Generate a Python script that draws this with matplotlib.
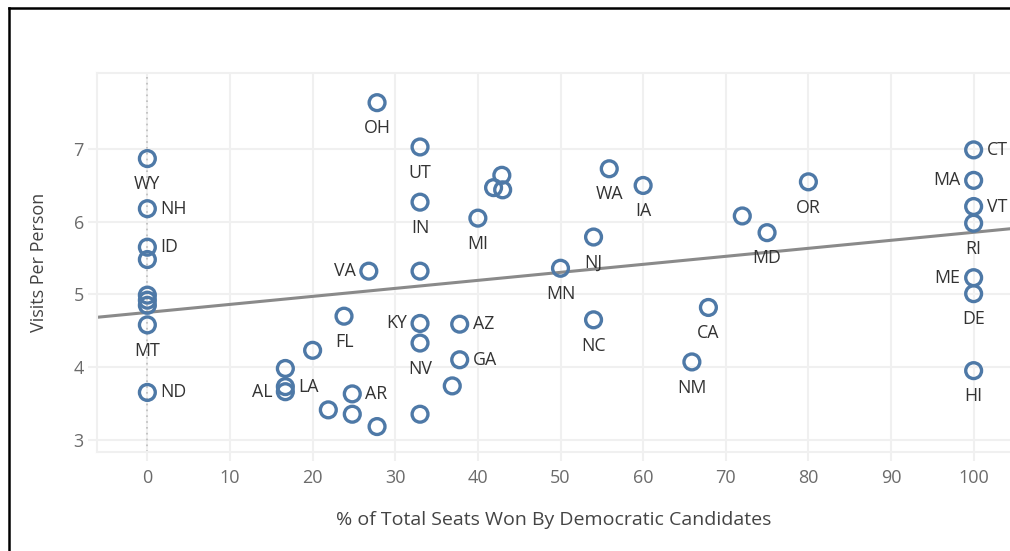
import numpy as np
import matplotlib.pyplot as plt
from matplotlib.lines import Line2D

# state labels ('' = point without a visible label)
states = ['WY', 'NH', 'ID', '', '', '', '', 'MT', 'ND',
          'OH', 'UT', 'IN', 'VA', '', 'MI', '', '', '',
          'KY', 'NV', '', 'AZ', 'GA', '', 'FL', '', '',
          'LA', 'AL', 'AR', '', '', '',
          'WA', 'IA', 'NJ', 'MN', 'NC', 'CA', 'NM', '', 'MD', 'OR',
          'CT', 'MA', 'VT', 'RI', 'ME', 'DE', 'HI']
pct_dem = [0, 0, 0, 0, 0, 0, 0, 0, 0,
           27.8, 33, 33, 26.8, 33, 40, 42.9, 41.9, 43.0,
           33, 33, 33, 37.8, 37.8, 36.9, 23.8, 20, 16.7,
           16.7, 16.7, 24.8, 21.9, 24.8, 27.8,
           55.9, 60, 54, 50, 54, 67.9, 65.9, 72, 75, 80,
           100, 100, 100, 100, 100, 100, 100]
visits = [6.87, 6.18, 5.65, 5.48, 4.99, 4.92, 4.85, 4.58, 3.65,
          7.64, 7.03, 6.27, 5.32, 5.32, 6.05, 6.64, 6.47, 6.44,
          4.60, 4.33, 3.35, 4.59, 4.10, 3.74, 4.70, 4.23, 3.98,
          3.73, 3.66, 3.63, 3.41, 3.35, 3.18,
          6.73, 6.50, 5.79, 5.36, 4.65, 4.82, 4.07, 6.08, 5.85, 6.55,
          6.99, 6.57, 6.21, 5.98, 5.23, 5.01, 3.95]

# trend line
trend_intercept = 4.752
trend_slope = 0.01103

x_ticks = [0, 10, 20, 30, 40, 50, 60, 70, 80, 90, 100]
y_ticks = [3, 4, 5, 6, 7]

# where each label sits relative to its mark
label_side = {'NH': 'r', 'ID': 'r', 'ND': 'r', 'AZ': 'r', 'GA': 'r', 'LA': 'r',
              'AR': 'r', 'CT': 'r', 'VT': 'r',
              'VA': 'l', 'KY': 'l', 'AL': 'l', 'MA': 'l', 'ME': 'l'}

blue = '#4e79a7'
grid = '#f0f0f0'
plt.rcParams['font.family'] = ['Open Sans', 'DejaVu Sans']

fig = plt.figure(figsize=(10.1, 5.51), dpi=100)
ax = fig.add_axes([0.096, 0.1797, 0.904, 0.688])

ax.set_xlim(-6.1, 104.4)
ax.set_ylim(2.83, 8.05)
ax.set_xticks(x_ticks)
ax.set_yticks(y_ticks)
ax.grid(True, color=grid, linewidth=1.5, zorder=0)
ax.set_axisbelow(True)
ax.tick_params(axis='both', color=grid, width=1.5, length=6.5, labelcolor='#6b6b6b',
               labelsize=13)
ax.tick_params(axis='x', pad=6)
ax.tick_params(axis='y', pad=3)
for s in ['top', 'left', 'bottom']:
    ax.spines[s].set_color(grid)
    ax.spines[s].set_linewidth(1.5)
ax.spines['right'].set_visible(False)

ax.axvline(0, color='#bdbdbd', linestyle=(0, (1, 2.5)), linewidth=1.2, zorder=1)

xl = np.array(ax.get_xlim())
ax.plot(xl, trend_intercept + trend_slope * xl, color='#8a8a8a', linewidth=2.2, zorder=2)

ax.scatter(pct_dem, visits, s=130, facecolors='none', edgecolors=blue,
           linewidths=2.4, zorder=3)

for st, xv, yv in zip(states, pct_dem, visits):
    if not st:
        continue
    side = label_side.get(st, 'b')
    if side == 'r':
        ax.annotate(st, (xv, yv), xytext=(9.5, 0), textcoords='offset points',
                    ha='left', va='center', fontsize=12.8, color='#333333')
    elif side == 'l':
        ax.annotate(st, (xv, yv), xytext=(-9.5, 0), textcoords='offset points',
                    ha='right', va='center', fontsize=12.8, color='#333333')
    else:
        ax.annotate(st, (xv, yv), xytext=(0, -18.5), textcoords='offset points',
                    ha='center', va='center', fontsize=12.8, color='#333333')

ax.set_xlabel('% of Total Seats Won By Democratic Candidates', fontsize=14,
              color='#444444', labelpad=17)
ax.set_ylabel('Visits Per Person', fontsize=13, color='#444444', labelpad=18)

# outer black frame (top and left edges visible)
fig.add_artist(Line2D([0.009, 1.0], [0.986, 0.986], color='black', linewidth=1.8,
                      transform=fig.transFigure))
fig.add_artist(Line2D([0.009, 0.009], [0.0, 0.986], color='black', linewidth=1.8,
                      transform=fig.transFigure))

fig.savefig('out.png', dpi=100)
